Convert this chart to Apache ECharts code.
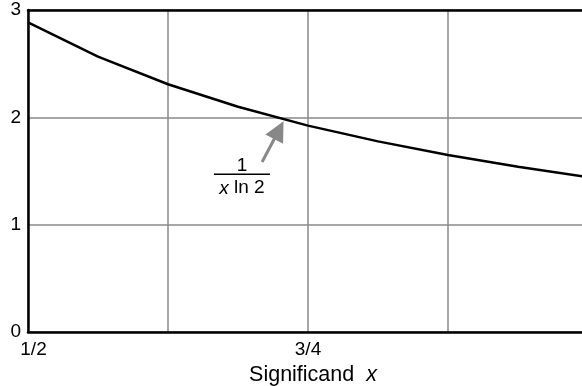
<!DOCTYPE html>
<html><head><meta charset="utf-8">
<script src="https://cdn.jsdelivr.net/npm/echarts@6/dist/echarts.min.js"></script>
<style>html,body{margin:0;padding:0;background:#fff}#c{width:582px;height:386px}</style>
</head><body><div id="c"></div>
<script>
var xValues = [0.5, 0.5625, 0.625, 0.6875, 0.75, 0.8125, 0.875, 0.9375, 1.0];
var yValues = [2.885, 2.565, 2.308, 2.098, 1.923, 1.776, 1.649, 1.539, 1.443];
var xTickValues = [0.5, 0.75, 1.0];
var xTickLabels = ['1/2', '3/4', '1'];
var yTickLabels = ['0', '1', '2', '3'];
var arrowFrom = [0.709, 1.584];
var arrowTo = [0.724, 1.88];
var fractionAt = [0.691, 1.47];

var FONT = '"Liberation Sans", Arial, Helvetica, sans-serif';
var FS = 19;
var NFS = 21.5;
var chart = echarts.init(document.getElementById('c'), null, {renderer: 'canvas'});
var option = {
  animation: false,
  grid: {left: 28, top: 10, width: 560, height: 322, containLabel: false, outerBoundsMode: 'none'},
  xAxis: [{
    type: 'value', min: 0.5, max: 1, interval: 0.125, position: 'bottom',
    axisLine: {show: true, onZero: false, lineStyle: {color: '#000', width: 2.5}},
    axisTick: {show: false},
    axisLabel: {
      margin: 8, color: '#000', fontSize: FS, fontFamily: FONT,
      formatter: function (v) {
        for (var i = 0; i < xTickValues.length; i++) if (Math.abs(v - xTickValues[i]) < 1e-9) return i === 0 ? '{m|' + xTickLabels[i] + '}' : xTickLabels[i];
        return '';
      },
      rich: {m: {fontSize: FS, fontFamily: FONT, color: '#000', padding: [0, 0, 0, 11]}}
    },
    splitLine: {show: true, lineStyle: {color: '#888', width: 1.5}},
    name: '{a|Significand}{s|  }{b|x}', nameLocation: 'middle', nameGap: 23,
    nameTextStyle: {rich: {
      a: {fontSize: NFS, fontFamily: FONT, color: '#000', padding: [0, 0, 0, 10]},
      s: {fontSize: NFS, fontFamily: FONT},
      b: {fontSize: NFS, fontFamily: FONT, fontStyle: 'italic', color: '#000'}
    }}
  }, {
    type: 'value', min: 0.5, max: 1, position: 'top',
    axisLine: {show: true, onZero: false, lineStyle: {color: '#000', width: 2.5}},
    axisTick: {show: false}, axisLabel: {show: false}, splitLine: {show: false}
  }],
  yAxis: {
    type: 'value', min: 0, max: 3, interval: 1,
    axisLine: {show: true, onZero: false, lineStyle: {color: '#000', width: 2.5}},
    axisTick: {show: false},
    axisLabel: {margin: 7, color: '#000', fontSize: FS, fontFamily: FONT,
      formatter: function (v) { return yTickLabels[Math.round(v)]; }},
    splitLine: {show: true, lineStyle: {color: '#888', width: 1.5}}
  },
  series: [{
    type: 'line', xAxisIndex: 0,
    data: xValues.map(function (x, i) { return [x, yValues[i]]; }),
    symbol: 'none', lineStyle: {color: '#000', width: 2.5}, z: 5
  }, {
    type: 'line', xAxisIndex: 0, data: [], symbol: 'none',
    markLine: {
      silent: true, symbol: ['none', 'triangle'], symbolSize: [20, 20],
      lineStyle: {color: '#888', width: 3, type: 'solid'},
      label: {show: false},
      data: [[{coord: arrowFrom}, {coord: arrowTo}]]
    }
  }]
};
chart.setOption(option);
var p = chart.convertToPixel({xAxisIndex: 0, yAxisIndex: 0}, fractionAt);
chart.setOption({graphic: [
  {type: 'text', x: p[0], y: p[1] - 8, style: {text: '1', font: FS + 'px ' + FONT, fill: '#000', align: 'center', verticalAlign: 'middle'}},
  {type: 'line', shape: {x1: p[0] - 28, y1: p[1], x2: p[0] + 28, y2: p[1]}, style: {stroke: '#000', lineWidth: 1.5}},
  {type: 'text', x: p[0], y: p[1] + 14, style: {
    align: 'center', verticalAlign: 'middle',
    rich: {i: {font: 'italic ' + FS + 'px ' + FONT, fill: '#000'}, n: {font: FS + 'px ' + FONT, fill: '#000'}},
    text: '{i|x}{n| ln 2}'}}
]});
</script></body></html>
